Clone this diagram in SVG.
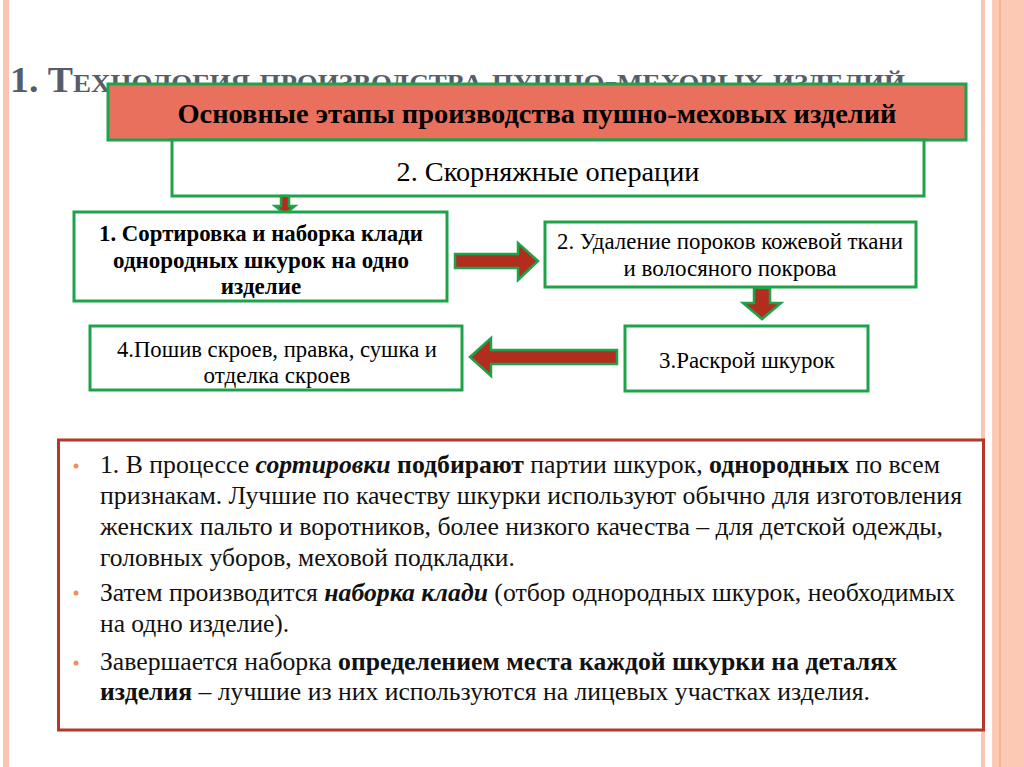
<svg xmlns="http://www.w3.org/2000/svg" width="1024" height="767" viewBox="0 0 1024 767">
<defs>
<style>
text{font-family:"Liberation Serif","Times New Roman",serif;fill:#000}
.box{fill:#fff;stroke:#1fa34a;stroke-width:3}
.arr{fill:#b22d1e;stroke:#1fa34a;stroke-width:2.5;stroke-linejoin:miter}
.b{font-weight:bold}
.bi{font-weight:bold;font-style:italic}
.body{font-size:25.5px;fill:#111}
.st{font-size:23px}
.dot{fill:#f0905e}
</style>
</defs>
<rect width="1024" height="767" fill="#fff"/>
<g id="frame">
<rect x="3" y="0" width="6" height="767" fill="#fbc5b2"/>
<rect x="981" y="0" width="4" height="767" fill="#fbc5b2"/>
<rect x="992" y="0" width="32" height="767" fill="#fcc9b5"/>
<rect x="999.5" y="0" width="1" height="767" fill="#f0a07c"/>
</g>
<g id="title">
<text x="10" y="92" font-size="35" font-weight="bold" textLength="895" lengthAdjust="spacingAndGlyphs" style="font-variant:small-caps;fill:#575d68">1. Технология производства пушно-меховых изделий</text>
</g>
<g id="header">
<rect x="108" y="84" width="858" height="56" fill="#e8705c" stroke="#1fa34a" stroke-width="3"/>
<text x="537" y="123" font-size="28" text-anchor="middle" class="b" textLength="719" lengthAdjust="spacingAndGlyphs">Основные этапы производства пушно-меховых изделий</text>
</g>
<g id="sub">
<rect x="172" y="140" width="752" height="56" class="box"/>
<text x="548" y="181" font-size="28" text-anchor="middle" textLength="303" lengthAdjust="spacingAndGlyphs">2. Скорняжные операции</text>
</g>
<g id="connectors">
<path class="arr" d="M281,196 L289,196 L289,206 L295,206 L285,214 L275,206 L281,206 Z"/>
<path class="arr" d="M455,254 L518,254 L518,243 L538,261 L518,280 L518,268 L455,268 Z"/>
<path class="arr" d="M754,288 L770,288 L770,303 L781,303 L762,319 L743,303 L754,303 Z"/>
<path class="arr" d="M617,350 L491,350 L491,338 L470,357 L491,376 L491,364 L617,364 Z"/>
</g>
<g id="step1">
<rect x="74" y="212" width="373" height="89" class="box"/>
<text x="261" y="241" text-anchor="middle" class="b st" textLength="324" lengthAdjust="spacingAndGlyphs">1. Сортировка и наборка клади</text>
<text x="261" y="268" text-anchor="middle" class="b st">однородных шкурок на одно</text>
<text x="261" y="294" text-anchor="middle" class="b st">изделие</text>
</g>
<g id="step2">
<rect x="545" y="222" width="371" height="65" class="box"/>
<text x="730" y="249" text-anchor="middle" class="st" textLength="346" lengthAdjust="spacingAndGlyphs">2. Удаление пороков кожевой ткани</text>
<text x="730" y="276" text-anchor="middle" class="st">и волосяного покрова</text>
</g>
<g id="step3">
<rect x="625" y="326" width="243" height="65" class="box"/>
<text x="747" y="368" text-anchor="middle" class="st" textLength="176" lengthAdjust="spacingAndGlyphs">3.Раскрой шкурок</text>
</g>
<g id="step4">
<rect x="90" y="326" width="372" height="64" class="box"/>
<text x="277" y="357" text-anchor="middle" class="st" textLength="320" lengthAdjust="spacingAndGlyphs">4.Пошив скроев, правка, сушка и</text>
<text x="277" y="383" text-anchor="middle" class="st">отделка скроев</text>
</g>
<g id="notes">
<rect x="58.5" y="440" width="925" height="290" fill="#fff" stroke="#b5372a" stroke-width="3"/>
<circle cx="76" cy="466" r="2.5" class="dot"/>
<circle cx="76" cy="593" r="2.5" class="dot"/>
<circle cx="76" cy="663" r="2.5" class="dot"/>
<text x="100" y="473" class="body" textLength="840" lengthAdjust="spacingAndGlyphs">1. В процессе <tspan class="bi">сортировки</tspan> <tspan class="b">подбирают</tspan> партии шкурок, <tspan class="b">однородных</tspan> по всем</text>
<text x="100" y="504" class="body" textLength="862" lengthAdjust="spacingAndGlyphs">признакам. Лучшие по качеству шкурки используют обычно для изготовления</text>
<text x="100" y="535" class="body" textLength="843" lengthAdjust="spacingAndGlyphs">женских пальто и воротников, более низкого качества – для детской одежды,</text>
<text x="100" y="566" class="body">головных уборов, меховой подкладки.</text>
<text x="100" y="601" class="body" textLength="855" lengthAdjust="spacingAndGlyphs">Затем производится <tspan class="bi">наборка клади</tspan> (отбор однородных шкурок, необходимых</text>
<text x="100" y="632" class="body">на одно изделие).</text>
<text x="100" y="670" class="body" textLength="797" lengthAdjust="spacingAndGlyphs">Завершается наборка <tspan class="b">определением места каждой шкурки на деталях</tspan></text>
<text x="100" y="700" class="body" textLength="770" lengthAdjust="spacingAndGlyphs"><tspan class="b">изделия</tspan> – лучшие из них используются на лицевых участках изделия.</text>
</g>
</svg>
